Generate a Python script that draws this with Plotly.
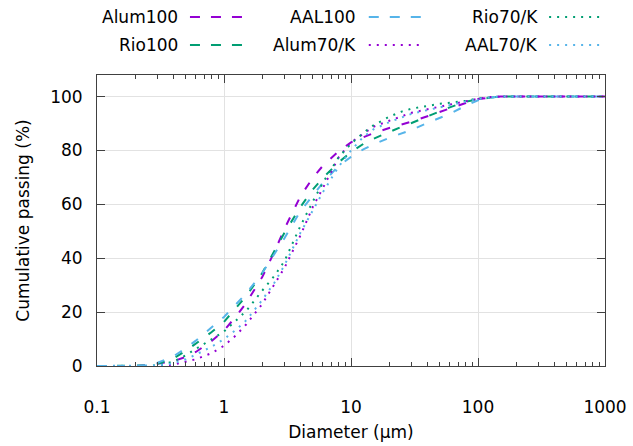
import plotly.graph_objects as go

# Particle size (µm) at which cumulative passing is tabulated
diameter = [0.1, 0.2, 0.25, 0.3, 0.4, 0.5, 0.6, 0.8, 1, 1.25, 1.5, 2, 2.5, 3, 4, 5, 6, 8,
            10, 12.5, 15, 20, 25, 30, 40, 50, 60, 80, 100, 125, 150, 200, 300, 500, 1000]

# Cumulative passing (%) for each powder
alum100 = [0, 0, 0.3, 0.8, 1.8, 3.4, 5.2, 9.3, 13.2, 18.5, 23.5, 33, 42.5, 51, 63, 69.8, 74.3, 79.7,
           83.0, 84.9, 86.4, 88.3, 89.6, 90.7, 92.7, 94.3, 95.8, 97.6, 99.1, 99.7, 100, 100, 100, 100, 100]
rio100 = [0, 0, 0.2, 0.8, 2.8, 5.6, 8.2, 12.6, 16.4, 21.5, 26, 34.5, 43, 49.5, 59, 65.5, 69.8, 75.6,
          79.4, 82.4, 84.3, 86.9, 88.8, 90.2, 92.7, 94.7, 96.0, 98.1, 99.0, 99.6, 100, 100, 100, 100, 100]
aal100 = [0, 0, 0.3, 1.2, 3.6, 6.6, 9.4, 14.2, 18.2, 23, 27, 34.5, 41.5, 47.5, 57.5, 63.5, 68, 74.3,
          77.6, 80.4, 82.2, 84.7, 86.2, 87.6, 90.2, 92.0, 93.6, 96.6, 98.6, 99.6, 100, 100, 100, 100, 100]
alum70k = [0, 0, 0, 0, 0.5, 1.5, 2.5, 4.8, 7.5, 11.5, 15.5, 23, 30.5, 36.5, 48.5, 59, 66, 77.5,
           83.0, 86.2, 88.8, 91.0, 92.8, 94.0, 95.3, 96.3, 97.0, 98.2, 99.2, 99.8, 100, 100, 100, 100, 100]
rio70k = [0, 0, 0, 0.3, 1.6, 4.0, 6.3, 9.8, 12.8, 17.0, 20.5, 28, 33.5, 39, 52, 61, 68, 77.5,
          82.5, 86.5, 89.3, 92.5, 94.4, 95.5, 96.6, 97.3, 97.7, 98.4, 99.3, 99.8, 100, 100, 100, 100, 100]
aal70k = [0, 0, 0, 0.2, 1.0, 2.5, 4.2, 7.2, 10, 13.5, 17, 24.5, 31, 37.5, 49.5, 58, 64.5, 74,
          80, 85, 87.8, 90.5, 92.3, 93.6, 95.0, 96.0, 96.8, 98.0, 99.1, 99.7, 100, 100, 100, 100, 100]

names = ["Alum100", "Rio100", "AAL100", "Alum70/K", "Rio70/K", "AAL70/K"]
values = [alum100, rio100, aal100, alum70k, rio70k, aal70k]

PURPLE, GREEN, BLUE = "#9400D3", "#009E73", "#56B4E9"
colors = [PURPLE, GREEN, BLUE, PURPLE, GREEN, BLUE]
DASH = "8px,12px"
DOT = "2px,6px"
dashes = [DASH, DASH, DASH, DOT, DOT, DOT]

FONT = "DejaVu Sans"
FS = 17
fig = go.Figure()
for name, v, c, d in zip(names, values, colors, dashes):
    fig.add_trace(go.Scatter(x=diameter, y=v, mode="lines", name=name,
                             line=dict(color=c, width=2, dash=d), showlegend=False))

# Key above the plot in two rows, text right-aligned with its line sample to the right
key_rows = [1.199, 1.103]
key_cols = [(0.163, 0.183, 0.287), (0.514, 0.535, 0.640), (0.872, 0.890, 0.998)]
for i, (name, c, d) in enumerate(zip(names, colors, dashes)):
    col, row = divmod(i, 2)
    tx, x0, x1 = key_cols[col]
    yk = key_rows[row]
    fig.add_annotation(xref="paper", yref="paper", x=tx, y=yk, text=name, showarrow=False,
                       xanchor="right", yanchor="middle", font=dict(family=FONT, size=FS, color="#000"))
    fig.add_shape(type="line", xref="paper", yref="paper", x0=x0, x1=x1, y0=yk, y1=yk,
                  line=dict(color=c, width=2, dash="10px,11px" if d == DASH else "2px,6px"))

axis_common = dict(showline=True, linecolor="#404040", linewidth=1, mirror="ticks",
                   ticks="inside", ticklen=8, tickcolor="#404040", showgrid=True,
                   gridcolor="#e2e2e2", gridwidth=1, zeroline=False, automargin=False,
                   tickfont=dict(family=FONT, size=FS, color="#000"))

fig.update_xaxes(type="log", range=[-1, 3], tickvals=[0.1, 1, 10, 100, 1000],
                 ticktext=["0.1", "1", "10", "100", "1000"], ticklabelstandoff=26,
                 minor=dict(ticks="inside", ticklen=4, tickcolor="#404040", dtick="D1", showgrid=False),
                 title=dict(text="Diameter (µm)", font=dict(family=FONT, size=FS, color="#000"), standoff=9),
                 **axis_common)
fig.update_yaxes(range=[0, 108], tickvals=[0, 20, 40, 60, 80, 100], ticklabelstandoff=10,
                 title=dict(text="Cumulative passing (%)", font=dict(family=FONT, size=FS, color="#000"), standoff=16),
                 **axis_common)

fig.update_layout(width=633, height=446, margin=dict(l=97, r=28, t=75, b=80),
                  paper_bgcolor="white", plot_bgcolor="white", showlegend=False)

fig.write_html("out.html")
